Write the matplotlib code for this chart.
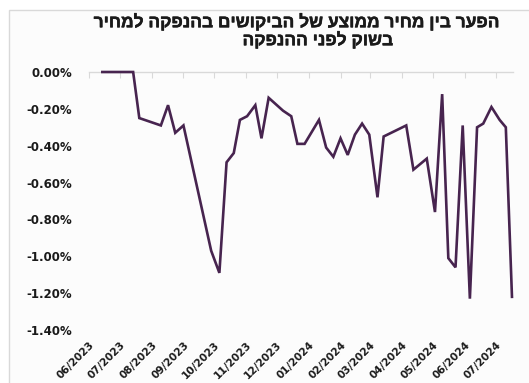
# -*- coding: utf-8 -*-
"""Line chart of the gap between the average demand price in an offering
and the market price before the offering."""

import datetime as dt

import matplotlib
matplotlib.use("Agg")
import matplotlib.pyplot as plt
import matplotlib.dates as mdates
import matplotlib.patheffects as pe
from matplotlib.patches import Rectangle

# Offering dates and price gap (percent)
offer_dates = [
    "2023-06-14", "2023-07-14", "2023-07-20", "2023-08-10", "2023-08-17",
    "2023-08-24", "2023-09-01", "2023-09-28", "2023-10-06", "2023-10-13",
    "2023-10-20", "2023-10-26", "2023-11-02", "2023-11-10", "2023-11-16",
    "2023-11-23", "2023-12-07", "2023-12-15", "2023-12-21", "2023-12-28",
    "2024-01-11", "2024-01-18", "2024-01-25", "2024-02-01", "2024-02-08",
    "2024-02-15", "2024-02-22", "2024-02-29", "2024-03-08", "2024-03-14",
    "2024-04-05", "2024-04-12", "2024-04-25", "2024-05-03", "2024-05-10",
    "2024-05-16", "2024-05-23", "2024-05-30", "2024-06-06", "2024-06-13",
    "2024-06-19", "2024-06-27", "2024-07-05", "2024-07-11", "2024-07-17",
]
price_gap = [
    0.00, 0.00, -0.25, -0.29, -0.18,
    -0.33, -0.29, -0.97, -1.09, -0.49,
    -0.44, -0.26, -0.24, -0.18, -0.36,
    -0.14, -0.21, -0.24, -0.39, -0.39,
    -0.26, -0.41, -0.46, -0.36, -0.45,
    -0.34, -0.28, -0.34, -0.68, -0.35,
    -0.29, -0.53, -0.47, -0.76, -0.12,
    -1.01, -1.06, -0.29, -1.23, -0.30,
    -0.28, -0.19, -0.26, -0.30, -1.22,
]

y_ticks = [0.0, -0.2, -0.4, -0.6, -0.8, -1.0, -1.2, -1.4]

title_lines = [
    "הפער בין מחיר ממוצע של הביקושים בהנפקה למחיר",
    "בשוק לפני ההנפקה",
]

line_color = "#47244f"
grey = "#d9d9d9"
text_color = "#1a1a1a"

W, H = 529, 383
fig = plt.figure(figsize=(W / 100, H / 100), dpi=100)
fig.patch.set_facecolor("white")

# chart frame
fig.patches.append(Rectangle((9 / W, -0.01), 1.0, 1 - 10 / H + 0.01,
                             transform=fig.transFigure, facecolor="#fcfcfc",
                             edgecolor=grey, linewidth=1.0, zorder=-5))

# matplotlib lays text out left to right, so the Hebrew is reversed
heb = ["Liberation Sans", "DejaVu Sans"]
bold = [pe.withStroke(linewidth=0.35, foreground=text_color)]
fig.text(297 / W, 1 - 22 / H, title_lines[0][::-1], ha="center", va="center",
         fontsize=12.5, fontweight="bold", family=heb, color=text_color,
         path_effects=bold)
fig.text(318 / W, 1 - 40 / H, title_lines[1][::-1], ha="center", va="center",
         fontsize=12.5, fontweight="bold", family=heb, color=text_color,
         path_effects=bold)

ax = fig.add_axes([89 / W, 1 - 330 / H, (513 - 89) / W, (330 - 72) / H])
ax.set_facecolor("none")
ax.set_zorder(2)

x = [dt.datetime.strptime(d, "%Y-%m-%d") for d in offer_dates]
ax.plot(x, price_gap, color=line_color, linewidth=1.9, solid_joinstyle="miter",
        clip_on=False, zorder=4)

ax.set_ylim(-1.4, 0.0)
ax.set_yticks(y_ticks)
ax.set_yticklabels(["%.2f%%" % v for v in y_ticks], fontsize=8.5,
                   fontweight="bold", color=text_color)
ax.tick_params(axis="y", length=0, pad=12)

month_ticks = [dt.datetime(2023 + (5 + i) // 12, (5 + i) % 12 + 1, 1)
               for i in range(14)]
ax.set_xlim(dt.datetime(2023, 6, 1), dt.datetime(2024, 7, 18))
ax.set_xticks(month_ticks)
ax.xaxis.set_major_formatter(mdates.DateFormatter("%m/%Y"))
ax.tick_params(axis="x", bottom=False, top=True, labelbottom=True,
               labeltop=False, direction="in", length=4, color=grey, pad=7)
for lbl in ax.get_xticklabels():
    lbl.set_rotation(45)
    lbl.set_ha("right")
    lbl.set_rotation_mode("anchor")
    lbl.set_fontsize(7.6)
    lbl.set_fontweight("bold")
    lbl.set_color(text_color)

for side in ["left", "right", "bottom"]:
    ax.spines[side].set_visible(False)
ax.spines["top"].set_color(grey)
ax.spines["top"].set_linewidth(1.0)

fig.savefig("out.png", dpi=100)
